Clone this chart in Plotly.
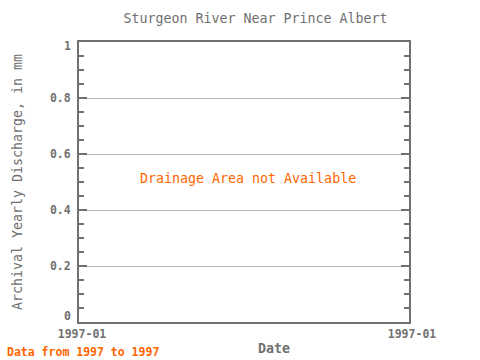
import plotly.graph_objects as go

title = "Sturgeon River Near Prince Albert"
x_tick_labels = ["1997-01", "1997-01"]
x_tick_pos = [0, 1]
y_tick_vals = [0, 0.2, 0.4, 0.6, 0.8, 1]
y_tick_text = ["0", "0.2", "0.4", "0.6", "0.8", "1"]
x_title = "Date"
y_title = "Archival Yearly Discharge, in mm"
no_data_msg = "Drainage Area not Available"
footer = "Data from 1997 to 1997"

FONT = "DejaVu Sans Mono"
GRAY = "#707070"
ORANGE = "#ff6600"

L, R, T, B = 79, 409, 42, 322
PW, PH = R - L, B - T

fig = go.Figure()
fig.add_trace(go.Scatter(x=[], y=[], mode="lines", showlegend=False))

fig.update_layout(
    width=480, height=360,
    margin=dict(l=L, r=480 - R, t=T, b=360 - B, autoexpand=False),
    paper_bgcolor="white", plot_bgcolor="white",
    font=dict(family=FONT, size=11, color=GRAY),
    title=dict(text=title, x=255.5 / 480, xref="container", xanchor="center", y=1 - 18 / 360, yanchor="middle",
               font=dict(family=FONT, size=13.3, color=GRAY)),
    showlegend=False,
)
fig.update_xaxes(
    range=[0, 1], tickvals=x_tick_pos, ticktext=x_tick_labels, automargin=False,
    tickfont=dict(family=FONT, size=11.5, color=GRAY, weight="bold"), ticklabelshift=3,
    showgrid=False, zeroline=False, showline=True, linecolor=GRAY, linewidth=2,
    mirror=True, ticks="", ticklen=0,
)
# inner tick labels through the axis; the end labels (0 and 1) are nudged inward like the reference
inner_text = y_tick_text[1:-1]
fig.update_yaxes(
    range=[0, 1], tickvals=y_tick_vals, ticktext=["", *inner_text, ""], automargin=False,
    tickfont=dict(family=FONT, size=11.5, color=GRAY, weight="bold"), ticklabelstandoff=4,
    showgrid=True, gridcolor="#b4b4b4", gridwidth=1, zeroline=False,
    showline=True, linecolor=GRAY, linewidth=2, mirror="allticks",
    ticks="inside", ticklen=8, tickcolor=GRAY, tickwidth=2,
    minor=dict(ticks="inside", dtick=0.05, ticklen=5, tickcolor=GRAY, tickwidth=2, showgrid=False),
    title=dict(text=y_title, font=dict(family=FONT, size=13.3, color=GRAY), standoff=24),
)
for v, t, shift in [(y_tick_vals[0], y_tick_text[0], 6), (y_tick_vals[-1], y_tick_text[-1], -4)]:
    fig.add_annotation(text=t, x=0, y=v, xref="paper", yref="y", xanchor="right", yanchor="middle",
                       xshift=-6, yshift=shift, showarrow=False,
                       font=dict(family=FONT, size=11.5, color=GRAY, weight="bold"))

fig.add_annotation(text=x_title, x=(274 - L) / PW, y=(B - 348) / PH, xref="paper", yref="paper",
                   xanchor="center", yanchor="middle", showarrow=False,
                   font=dict(family=FONT, size=13.3, color=GRAY, weight="bold"))
fig.add_annotation(text=no_data_msg, x=(247.5 - L) / PW, y=(B - 178) / PH, xref="paper", yref="paper",
                   xanchor="center", yanchor="middle",
                   showarrow=False, font=dict(family=FONT, size=13.3, color=ORANGE))
fig.add_annotation(text=footer, x=(5 - L) / PW, y=(B - 352) / PH, xref="paper", yref="paper",
                   xanchor="left", yanchor="middle", showarrow=False,
                   font=dict(family=FONT, size=11.5, color=ORANGE, weight="bold"))
fig.write_html("out.html")
